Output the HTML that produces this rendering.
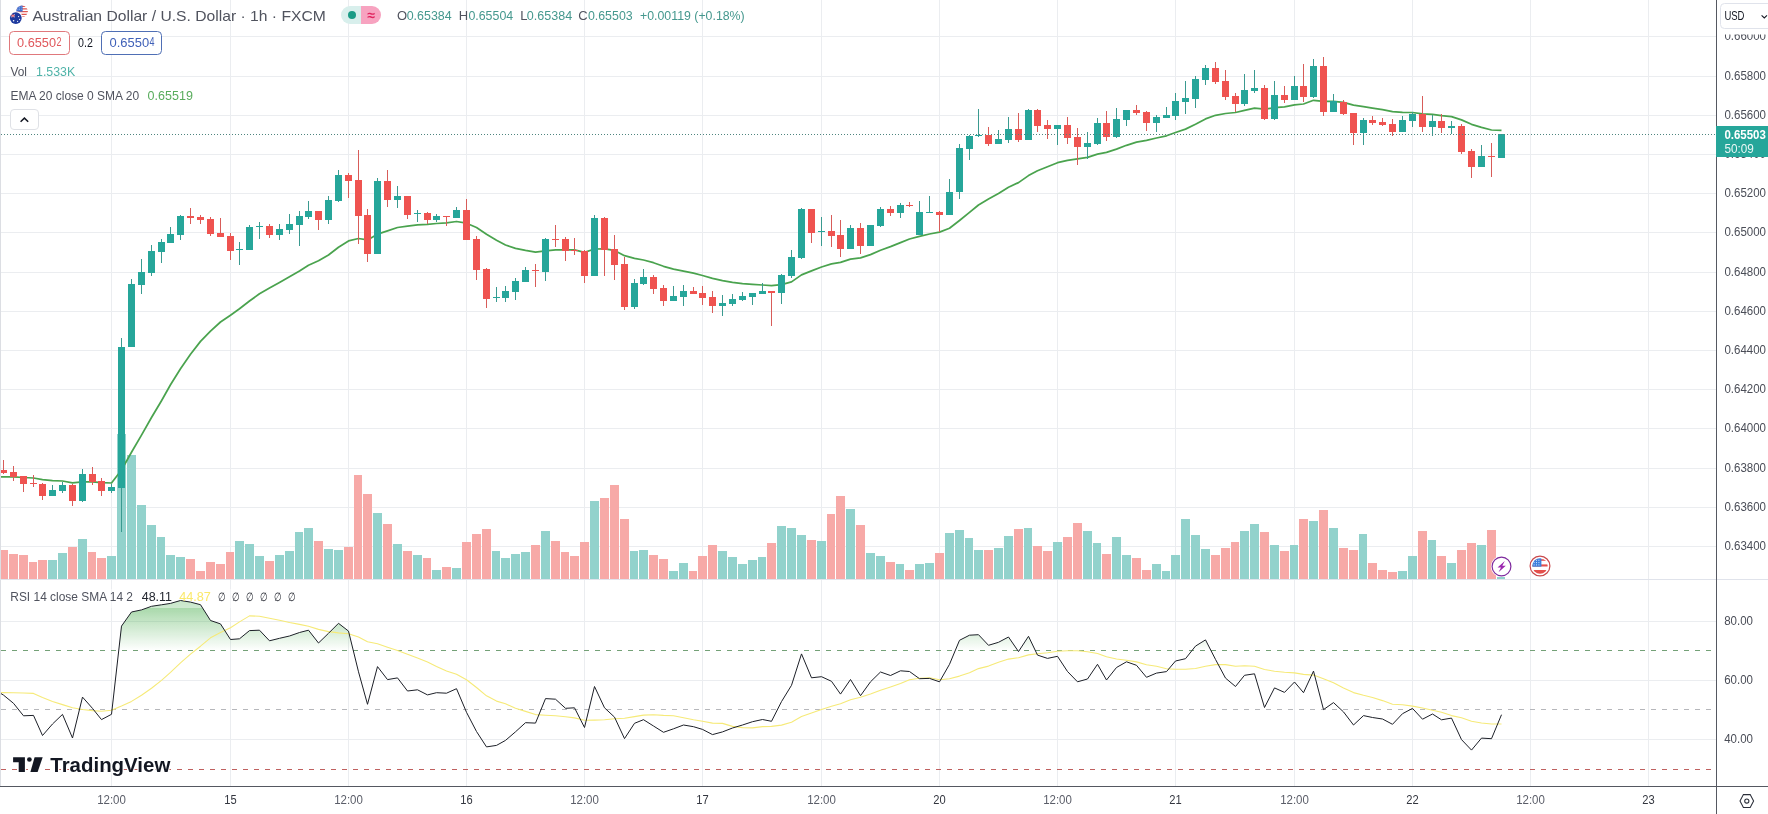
<!DOCTYPE html>
<html lang="en"><head><meta charset="utf-8"><title>AUDUSD chart</title>
<style>html,body{margin:0;padding:0;background:#fff}body{width:1768px;height:814px;overflow:hidden;position:relative;font-family:"Liberation Sans", Arial, sans-serif}svg{position:absolute;left:0;top:0;display:block}text{font-family:"Liberation Sans", Arial, sans-serif}</style></head><body>
<svg width="1768" height="814" viewBox="0 0 1768 814" shape-rendering="crispEdges">
<rect x="0" y="0" width="1768" height="814" fill="#fff"/>
<path d="M1 36.5H1716M1 76.5H1716M1 115.5H1716M1 154.5H1716M1 193.5H1716M1 232.5H1716M1 272.5H1716M1 311.5H1716M1 350.5H1716M1 389.5H1716M1 428.5H1716M1 468.5H1716M1 507.5H1716M1 546.5H1716M1 621.5H1716M1 680.5H1716M1 739.5H1716M111.5 0V786M230.5 0V786M348.5 0V786M466.5 0V786M584.5 0V786M702.5 0V786M821.5 0V786M939.5 0V786M1057.5 0V786M1175.5 0V786M1294.5 0V786M1412.5 0V786M1530.5 0V786M1648.5 0V786" stroke="#ebedf0" stroke-width="1" fill="none"/>
<path d="M48 560H57V579H48ZM58 553H67V579H58ZM78 539H87V579H78ZM107 556H116V579H107ZM117 434H126V579H117ZM127 455H136V579H127ZM137 505H146V579H137ZM147 525H156V579H147ZM157 537H165V579H157ZM166 555H175V579H166ZM176 557H185V579H176ZM235 541H244V579H235ZM245 544H254V579H245ZM255 556H264V579H255ZM275 555H284V579H275ZM285 551H294V579H285ZM295 532H303V579H295ZM304 528H313V579H304ZM324 549H333V579H324ZM334 550H343V579H334ZM373 513H382V579H373ZM393 544H402V579H393ZM413 555H422V579H413ZM432 570H441V579H432ZM452 568H461V579H452ZM492 551H500V579H492ZM501 558H510V579H501ZM511 554H520V579H511ZM521 552H530V579H521ZM541 531H550V579H541ZM590 501H599V579H590ZM630 551H638V579H630ZM639 550H648V579H639ZM669 571H678V579H669ZM679 563H688V579H679ZM718 551H727V579H718ZM728 557H737V579H728ZM738 564H747V579H738ZM748 560H757V579H748ZM758 557H766V579H758ZM777 526H786V579H777ZM787 528H796V579H787ZM797 535H806V579H797ZM817 541H826V579H817ZM846 509H855V579H846ZM866 553H875V579H866ZM876 556H885V579H876ZM896 564H904V579H896ZM915 564H924V579H915ZM925 563H934V579H925ZM945 533H954V579H945ZM955 530H964V579H955ZM965 538H973V579H965ZM974 550H983V579H974ZM994 548H1003V579H994ZM1004 536H1013V579H1004ZM1024 528H1032V579H1024ZM1053 542H1062V579H1053ZM1083 531H1092V579H1083ZM1093 543H1101V579H1093ZM1112 537H1121V579H1112ZM1122 555H1131V579H1122ZM1152 564H1161V579H1152ZM1162 571H1170V579H1162ZM1171 555H1180V579H1171ZM1181 519H1190V579H1181ZM1191 535H1200V579H1191ZM1201 549H1210V579H1201ZM1240 531H1249V579H1240ZM1250 524H1259V579H1250ZM1270 545H1279V579H1270ZM1290 545H1298V579H1290ZM1309 521H1318V579H1309ZM1329 528H1338V579H1329ZM1359 534H1367V579H1359ZM1398 571H1407V579H1398ZM1408 556H1417V579H1408ZM1428 540H1436V579H1428ZM1447 563H1456V579H1447ZM1477 545H1486V579H1477ZM1497 577H1505V579H1497Z" fill="#92d2cc"/>
<path d="M1 550H8V579H1ZM9 554H18V579H9ZM19 555H28V579H19ZM29 562H37V579H29ZM38 560H47V579H38ZM68 547H77V579H68ZM88 552H96V579H88ZM97 558H106V579H97ZM186 559H195V579H186ZM196 571H205V579H196ZM206 562H215V579H206ZM216 564H225V579H216ZM226 552H234V579H226ZM265 561H274V579H265ZM314 541H323V579H314ZM344 547H353V579H344ZM354 475H362V579H354ZM363 494H372V579H363ZM383 524H392V579H383ZM403 551H412V579H403ZM423 558H431V579H423ZM442 567H451V579H442ZM462 542H471V579H462ZM472 534H481V579H472ZM482 529H491V579H482ZM531 545H540V579H531ZM551 541H560V579H551ZM561 552H569V579H561ZM570 556H579V579H570ZM580 542H589V579H580ZM600 498H609V579H600ZM610 485H619V579H610ZM620 519H629V579H620ZM649 555H658V579H649ZM659 559H668V579H659ZM689 571H697V579H689ZM698 556H707V579H698ZM708 545H717V579H708ZM767 543H776V579H767ZM807 540H816V579H807ZM827 514H835V579H827ZM836 496H845V579H836ZM856 525H865V579H856ZM886 562H895V579H886ZM905 570H914V579H905ZM935 553H944V579H935ZM984 550H993V579H984ZM1014 529H1023V579H1014ZM1033 546H1042V579H1033ZM1043 551H1052V579H1043ZM1063 537H1072V579H1063ZM1073 523H1082V579H1073ZM1102 554H1111V579H1102ZM1132 558H1141V579H1132ZM1142 570H1151V579H1142ZM1211 555H1220V579H1211ZM1221 548H1230V579H1221ZM1231 542H1239V579H1231ZM1260 532H1269V579H1260ZM1280 551H1289V579H1280ZM1299 519H1308V579H1299ZM1319 510H1328V579H1319ZM1339 548H1348V579H1339ZM1349 550H1358V579H1349ZM1368 563H1377V579H1368ZM1378 570H1387V579H1378ZM1388 572H1397V579H1388ZM1418 531H1427V579H1418ZM1437 556H1446V579H1437ZM1457 550H1466V579H1457ZM1467 543H1476V579H1467ZM1487 530H1496V579H1487Z" fill="#f7a9a7"/>
<polyline shape-rendering="geometricPrecision" fill="none" stroke="#4aa34e" stroke-width="1.75" stroke-linejoin="round" points="-6.4,476.6 3.5,476.9 13.5,476.9 23.5,477.5 33.5,478.0 42.5,479.7 52.5,480.6 62.5,481.0 72.5,482.8 82.5,481.9 92.5,481.9 101.5,482.7 111.5,483.0 121.5,470.0 131.5,452.3 141.5,435.1 151.5,417.5 161.5,400.7 170.5,384.8 180.5,368.7 190.5,354.2 200.5,341.4 210.5,331.1 220.5,322.0 230.5,315.2 239.5,308.8 249.5,301.0 259.5,293.8 269.5,288.1 279.5,282.4 289.5,276.8 299.5,271.0 308.5,265.2 318.5,260.8 328.5,255.0 338.5,247.3 348.5,240.9 358.5,238.5 367.5,239.9 377.5,234.2 387.5,230.9 397.5,227.5 407.5,226.2 417.5,224.9 427.5,224.3 436.5,223.5 446.5,222.8 456.5,221.5 466.5,223.2 476.5,227.5 486.5,234.2 496.5,240.2 505.5,245.0 515.5,248.3 525.5,250.4 535.5,252.2 545.5,250.9 555.5,249.8 565.5,249.8 574.5,249.8 584.5,252.3 594.5,249.0 604.5,248.9 614.5,250.4 624.5,255.7 634.5,258.3 643.5,260.0 653.5,262.7 663.5,266.3 673.5,269.1 683.5,271.1 693.5,273.2 702.5,275.5 712.5,278.3 722.5,280.6 732.5,282.3 742.5,283.6 752.5,284.4 762.5,285.0 771.5,285.7 781.5,284.6 791.5,281.9 801.5,274.9 811.5,270.9 821.5,267.0 831.5,263.9 840.5,262.4 850.5,259.1 860.5,257.8 870.5,254.6 880.5,250.2 890.5,246.6 900.5,242.6 909.5,239.0 919.5,236.4 929.5,234.0 939.5,232.1 949.5,228.2 959.5,220.5 969.5,212.4 978.5,205.0 988.5,199.1 998.5,193.4 1008.5,187.2 1018.5,182.6 1028.5,175.6 1037.5,170.8 1047.5,166.7 1057.5,162.7 1067.5,160.3 1077.5,158.9 1087.5,157.4 1097.5,154.1 1106.5,152.3 1116.5,149.1 1126.5,145.3 1136.5,142.2 1146.5,140.3 1156.5,138.0 1166.5,135.8 1175.5,132.5 1185.5,129.1 1195.5,124.3 1205.5,118.9 1215.5,115.3 1225.5,113.5 1235.5,112.5 1244.5,110.3 1254.5,108.1 1264.5,109.1 1274.5,107.7 1284.5,106.9 1294.5,104.9 1303.5,104.0 1313.5,100.3 1323.5,101.4 1333.5,101.3 1343.5,102.4 1353.5,105.2 1363.5,106.6 1372.5,108.1 1382.5,109.6 1392.5,111.7 1402.5,112.4 1412.5,112.5 1422.5,113.8 1432.5,114.4 1441.5,115.7 1451.5,116.6 1461.5,119.9 1471.5,124.3 1481.5,127.3 1491.5,130.0 1501.5,130.4"/>
<path d="M52 485H53V496H52ZM62 482H63V493H62ZM82 469H83V502H82ZM111 484H112V493H111ZM121 338H122V532H121ZM131 279H132V347H131ZM141 259H142V294H141ZM151 245H152V276H151ZM161 239H162V263H161ZM170 227H171V243H170ZM180 215H181V240H180ZM239 242H240V265H239ZM249 225H250V250H249ZM259 222H260V239H259ZM279 224H280V240H279ZM289 214H290V234H289ZM299 211H300V246H299ZM308 201H309V219H308ZM328 196H329V224H328ZM338 170H339V202H338ZM377 178H378V254H377ZM397 186H398V208H397ZM417 210H418V222H417ZM436 214H437V222H436ZM456 207H457V218H456ZM496 287H497V302H496ZM505 286H506V302H505ZM515 278H516V300H515ZM525 267H526V282H525ZM545 238H546V281H545ZM594 215H595V276H594ZM634 279H635V309H634ZM643 269H644V285H643ZM673 286H674V301H673ZM683 285H684V306H683ZM722 295H723V316H722ZM732 294H733V306H732ZM742 292H743V301H742ZM752 293H753V305H752ZM762 283H763V294H762ZM781 274H782V304H781ZM791 250H792V278H791ZM801 208H802V259H801ZM821 217H822V246H821ZM850 225H851V249H850ZM870 225H871V246H870ZM880 207H881V227H880ZM900 203H901V218H900ZM919 201H920V235H919ZM929 196H930V213H929ZM949 179H950V215H949ZM959 144H960V199H959ZM969 135H970V160H969ZM978 109H979V137H978ZM998 130H999V144H998ZM1008 117H1009V143H1008ZM1028 109H1029V140H1028ZM1057 125H1058V145H1057ZM1087 132H1088V159H1087ZM1097 118H1098V145H1097ZM1116 108H1117V138H1116ZM1126 110H1127V126H1126ZM1156 115H1157V132H1156ZM1166 107H1167V118H1166ZM1175 93H1176V120H1175ZM1185 81H1186V114H1185ZM1195 76H1196V108H1195ZM1205 65H1206V85H1205ZM1244 74H1245V106H1244ZM1254 70H1255V93H1254ZM1274 81H1275V120H1274ZM1294 76H1295V100H1294ZM1313 59H1314V98H1313ZM1333 94H1334V112H1333ZM1363 118H1364V145H1363ZM1402 116H1403V132H1402ZM1412 112H1413V127H1412ZM1432 115H1433V136H1432ZM1451 121H1452V134H1451ZM1481 145H1482V167H1481ZM1501 134H1502V158H1501Z" fill="#3a9a90"/>
<path d="M49 490H56V496H49ZM59 485H66V491H59ZM79 474H86V501H79ZM108 487H115V491H108ZM118 347H125V488H118ZM128 284H135V347H128ZM138 272H145V285H138ZM148 251H155V273H148ZM158 242H165V252H158ZM167 234H174V243H167ZM177 216H184V235H177ZM236 249H243V250H236ZM246 227H253V250H246ZM256 226H263V227H256ZM276 229H283V235H276ZM286 224H293V230H286ZM296 216H303V225H296ZM305 211H312V217H305ZM325 200H332V220H325ZM335 175H342V201H335ZM374 181H381V254H374ZM394 196H401V200H394ZM414 213H421V214H414ZM433 216H440V220H433ZM453 210H460V218H453ZM493 297H500V298H493ZM502 291H509V298H502ZM512 281H519V292H512ZM522 270H529V282H522ZM542 239H549V272H542ZM591 218H598V276H591ZM631 283H638V307H631ZM640 277H647V284H640ZM670 296H677V301H670ZM680 291H687V297H680ZM719 303H726V306H719ZM729 299H736V304H729ZM739 296H746V300H739ZM749 293H756V297H749ZM759 291H766V294H759ZM778 275H785V293H778ZM788 257H795V276H788ZM798 209H805V258H798ZM818 231H825V232H818ZM847 228H854V249H847ZM867 225H874V246H867ZM877 209H884V226H877ZM897 205H904V213H897ZM916 212H923V235H916ZM926 212H933V213H926ZM946 192H953V215H946ZM956 148H963V192H956ZM966 136H973V149H966ZM975 135H982V136H975ZM995 139H1002V144H995ZM1005 129H1012V140H1005ZM1025 110H1032V140H1025ZM1054 125H1061V129H1054ZM1084 143H1091V147H1084ZM1094 123H1101V144H1094ZM1113 119H1120V137H1113ZM1123 110H1130V120H1123ZM1153 117H1160V123H1153ZM1163 115H1170V118H1163ZM1172 101H1179V116H1172ZM1182 98H1189V102H1182ZM1192 79H1199V99H1192ZM1202 68H1209V80H1202ZM1241 90H1248V104H1241ZM1251 88H1258V91H1251ZM1271 95H1278V119H1271ZM1291 86H1298V100H1291ZM1310 66H1317V97H1310ZM1330 101H1337V112H1330ZM1360 120H1367V133H1360ZM1399 120H1406V132H1399ZM1409 114H1416V121H1409ZM1429 121H1436V127H1429ZM1448 126H1455V128H1448ZM1478 156H1485V167H1478ZM1498 134H1505V158H1498Z" fill="#26a69a"/>
<path d="M3 460H4V474H3ZM13 466H14V481H13ZM23 476H24V492H23ZM33 475H34V487H33ZM42 483H43V500H42ZM72 484H73V506H72ZM92 467H93V485H92ZM101 478H102V496H101ZM190 208H191V224H190ZM200 215H201V224H200ZM210 217H211V236H210ZM220 218H221V237H220ZM230 233H231V260H230ZM269 224H270V238H269ZM318 211H319V230H318ZM348 173H349V198H348ZM358 150H359V244H358ZM367 209H368V262H367ZM387 170H388V207H387ZM407 196H408V219H407ZM427 212H428V224H427ZM446 216H447V226H446ZM466 199H467V240H466ZM476 236H477V280H476ZM486 268H487V308H486ZM535 264H536V287H535ZM555 225H556V247H555ZM565 237H566V261H565ZM574 238H575V255H574ZM584 250H585V283H584ZM604 217H605V276H604ZM614 235H615V280H614ZM624 257H625V310H624ZM653 275H654V294H653ZM663 285H664V306H663ZM693 287H694V294H693ZM702 286H703V305H702ZM712 291H713V313H712ZM771 291H772V326H771ZM811 209H812V243H811ZM831 215H832V247H831ZM840 220H841V257H840ZM860 223H861V254H860ZM890 206H891V216H890ZM909 202H910V207H909ZM939 211H940V232H939ZM988 127H989V146H988ZM1018 113H1019V142H1018ZM1037 109H1038V132H1037ZM1047 120H1048V139H1047ZM1067 117H1068V144H1067ZM1077 128H1078V165H1077ZM1106 111H1107V141H1106ZM1136 105H1137V115H1136ZM1146 111H1147V131H1146ZM1215 62H1216V84H1215ZM1225 70H1226V100H1225ZM1235 93H1236V112H1235ZM1264 85H1265V120H1264ZM1284 86H1285V103H1284ZM1303 64H1304V102H1303ZM1323 57H1324V116H1323ZM1343 100H1344V115H1343ZM1353 113H1354V145H1353ZM1372 116H1373V125H1372ZM1382 118H1383V126H1382ZM1392 119H1393V136H1392ZM1422 96H1423V132H1422ZM1441 114H1442V133H1441ZM1461 124H1462V154H1461ZM1471 149H1472V178H1471ZM1491 143H1492V177H1491Z" fill="#d85c59"/>
<path d="M1 470H7V473H1ZM10 472H17V477H10ZM20 476H27V484H20ZM30 483H37V484H30ZM39 484H46V496H39ZM69 485H76V501H69ZM89 474H96V482H89ZM98 481H105V491H98ZM187 216H194V218H187ZM197 217H204V220H197ZM207 219H214V234H207ZM217 233H224V237H217ZM227 236H234V251H227ZM266 226H273V235H266ZM315 211H322V220H315ZM345 175H352V181H345ZM355 180H362V216H355ZM364 215H371V254H364ZM384 181H391V200H384ZM404 196H411V215H404ZM424 213H431V220H424ZM443 216H450V217H443ZM463 210H470V240H463ZM473 239H480V270H473ZM483 269H490V299H483ZM532 270H539V271H532ZM552 239H559V240H552ZM562 239H569V251H562ZM571 250H578V251H571ZM581 251H588V276H581ZM601 218H608V250H601ZM611 249H618V265H611ZM621 264H628V307H621ZM650 277H657V289H650ZM660 288H667V301H660ZM690 291H697V294H690ZM699 293H706V298H699ZM709 297H716V306H709ZM768 291H775V293H768ZM808 209H815V233H808ZM828 231H835V236H828ZM837 235H844V249H837ZM857 228H864V246H857ZM887 209H894V213H887ZM906 205H913V206H906ZM936 212H943V215H936ZM985 135H992V144H985ZM1015 129H1022V140H1015ZM1034 110H1041V126H1034ZM1044 125H1051V129H1044ZM1064 125H1071V138H1064ZM1074 137H1081V147H1074ZM1103 123H1110V137H1103ZM1133 110H1140V113H1133ZM1143 112H1150V123H1143ZM1212 68H1219V82H1212ZM1222 81H1229V97H1222ZM1232 96H1239V104H1232ZM1261 88H1268V119H1261ZM1281 95H1288V100H1281ZM1300 86H1307V97H1300ZM1320 66H1327V112H1320ZM1340 102H1347V114H1340ZM1350 113H1357V133H1350ZM1369 120H1376V123H1369ZM1379 122H1386V125H1379ZM1389 124H1396V132H1389ZM1419 114H1426V127H1419ZM1438 121H1445V128H1438ZM1458 126H1465V152H1458ZM1468 151H1475V167H1468ZM1488 156H1495V157H1488Z" fill="#ef5350"/>
<path d="M1 134.5H1716" stroke="#4f857f" stroke-width="1" stroke-dasharray="1 2" fill="none"/>
<path d="M1 650.5H1712" stroke="#74a177" stroke-width="1" stroke-dasharray="5 6" fill="none"/>
<path d="M1 709.5H1712" stroke="#b6b7bb" stroke-width="1" stroke-dasharray="5 6" fill="none"/>
<path d="M1 769.5H1712" stroke="#c0605f" stroke-width="1" stroke-dasharray="5 6" fill="none"/>
<rect x="0" y="0" width="1" height="786" fill="#dcdee3"/>
<rect x="0" y="579" width="1768" height="1" fill="#e0e3eb"/>
<rect x="1716" y="0" width="1" height="814" fill="#555861"/>
<rect x="0" y="786" width="1768" height="1" fill="#555861"/>
</svg>
<svg width="1768" height="814" viewBox="0 0 1768 814" style="will-change:transform;transform:translateZ(0)">
<defs><linearGradient id="ob" gradientUnits="userSpaceOnUse" x1="0" y1="561.9" x2="0" y2="650.7"><stop offset="0" stop-color="#4caf50" stop-opacity="1"/><stop offset="1" stop-color="#4caf50" stop-opacity="0"/></linearGradient>
<clipPath id="cp"><rect x="1" y="0" width="1715" height="786"/></clipPath></defs>
<g clip-path="url(#cp)">
<polygon fill="url(#ob)" points="118.7,650.5 121.5,626.1 131.5,612.0 141.5,609.9 151.5,606.3 161.5,604.8 170.5,603.4 180.5,600.5 190.5,602.1 200.5,604.7 210.5,620.5 220.5,623.9 230.5,639.5 239.5,638.8 249.5,630.6 259.5,630.2 269.5,640.8 279.5,638.3 289.5,636.0 299.5,632.5 308.5,630.2 318.5,643.0 328.5,633.3 338.5,623.3 348.5,631.1 353.3,650.5"/>
<polygon fill="url(#ob)" points="955.3,650.5 959.5,640.3 969.5,635.2 978.5,634.7 988.5,645.3 998.5,642.3 1008.5,637.0 1017.8,650.5"/>
<polygon fill="url(#ob)" points="1019.2,650.5 1028.5,636.3 1035.3,650.5"/>
<polygon fill="url(#ob)" points="1192.0,650.5 1195.5,646.1 1205.5,639.9 1211.0,650.5"/>
<rect x="8" y="589" width="290" height="19" fill="#fff" fill-opacity="0.45"/>
<polyline fill="none" stroke="#f6ea78" stroke-width="1.1" stroke-linejoin="round" points="-6.4,692.4 3.5,692.6 13.5,692.8 23.5,693.0 33.5,693.4 42.5,697.5 52.5,701.5 62.5,704.6 72.5,707.8 82.5,709.5 92.5,710.6 101.5,711.2 111.5,710.3 121.5,706.0 131.5,701.4 141.5,695.3 151.5,688.3 161.5,680.4 170.5,672.4 180.5,662.8 190.5,654.1 200.5,646.2 210.5,637.8 220.5,632.6 230.5,627.7 239.5,621.9 249.5,615.9 259.5,616.2 269.5,618.3 279.5,620.3 289.5,622.5 299.5,624.4 308.5,626.3 318.5,629.4 328.5,631.6 338.5,632.9 348.5,633.7 358.5,637.1 367.5,641.7 377.5,643.7 387.5,647.2 397.5,650.6 407.5,654.2 417.5,657.9 427.5,662.1 436.5,666.4 446.5,670.9 456.5,674.2 466.5,679.8 476.5,687.5 486.5,695.8 496.5,701.1 505.5,703.7 515.5,708.3 525.5,711.4 535.5,714.6 545.5,715.2 555.5,715.8 565.5,716.8 574.5,717.9 584.5,720.3 594.5,720.1 604.5,719.8 614.5,718.8 624.5,718.2 634.5,716.6 643.5,715.1 653.5,714.7 663.5,715.4 673.5,715.8 683.5,717.7 693.5,719.7 702.5,721.2 712.5,723.1 722.5,723.4 732.5,726.4 742.5,727.6 752.5,727.9 762.5,726.6 771.5,726.4 781.5,725.1 791.5,722.2 801.5,716.6 811.5,713.0 821.5,709.5 831.5,706.3 840.5,703.8 850.5,699.8 860.5,697.2 870.5,693.9 880.5,690.2 890.5,686.9 900.5,683.4 909.5,679.8 919.5,678.2 929.5,677.7 939.5,679.7 949.5,678.7 959.5,676.1 969.5,672.8 978.5,668.6 988.5,666.1 998.5,662.3 1008.5,659.1 1018.5,657.7 1028.5,654.9 1037.5,653.7 1047.5,652.8 1057.5,651.2 1067.5,650.7 1077.5,650.7 1087.5,651.8 1097.5,653.5 1106.5,656.7 1116.5,659.0 1126.5,660.2 1136.5,661.9 1146.5,664.7 1156.5,666.3 1166.5,668.8 1175.5,669.2 1185.5,669.2 1195.5,668.5 1205.5,666.2 1215.5,664.6 1225.5,664.6 1235.5,666.2 1244.5,665.8 1254.5,666.3 1264.5,669.5 1274.5,671.2 1284.5,672.2 1294.5,672.9 1303.5,674.4 1313.5,675.1 1323.5,678.7 1333.5,682.8 1343.5,687.9 1353.5,692.6 1363.5,695.3 1372.5,697.5 1382.5,700.6 1392.5,704.2 1402.5,704.7 1412.5,706.1 1422.5,708.0 1432.5,710.3 1441.5,712.3 1451.5,715.6 1461.5,717.8 1471.5,721.2 1481.5,723.0 1491.5,724.0 1501.5,724.0"/>
<polyline fill="none" stroke="#1c1f27" stroke-width="1" stroke-linejoin="round" points="-6.4,689.1 3.5,695.1 13.5,703.3 23.5,715.8 33.5,715.4 42.5,735.5 52.5,724.0 62.5,714.4 72.5,738.0 82.5,697.1 92.5,708.4 101.5,719.6 111.5,714.3 121.5,626.1 131.5,612.0 141.5,609.9 151.5,606.3 161.5,604.8 170.5,603.4 180.5,600.5 190.5,602.1 200.5,604.7 210.5,620.5 220.5,623.9 230.5,639.5 239.5,638.8 249.5,630.6 259.5,630.2 269.5,640.8 279.5,638.3 289.5,636.0 299.5,632.5 308.5,630.2 318.5,643.0 328.5,633.3 338.5,623.3 348.5,631.1 358.5,671.8 367.5,704.3 377.5,666.6 387.5,679.6 397.5,677.9 407.5,691.0 417.5,689.8 427.5,694.9 436.5,692.7 446.5,693.2 456.5,688.7 466.5,712.3 476.5,731.5 486.5,746.9 496.5,745.4 505.5,740.4 515.5,731.8 525.5,722.7 535.5,723.1 545.5,698.6 555.5,699.2 565.5,708.3 574.5,707.8 584.5,727.5 594.5,686.5 604.5,707.8 614.5,717.1 624.5,738.6 634.5,723.3 643.5,719.7 653.5,726.0 663.5,732.3 673.5,728.8 683.5,725.0 693.5,726.7 702.5,729.4 712.5,734.6 722.5,731.9 732.5,728.0 742.5,725.0 752.5,721.7 762.5,719.5 771.5,721.3 781.5,701.6 791.5,685.3 801.5,653.9 811.5,677.8 821.5,676.7 831.5,681.3 840.5,694.1 850.5,679.5 860.5,695.7 870.5,681.8 880.5,672.0 890.5,675.5 900.5,670.8 909.5,671.5 919.5,678.7 929.5,678.4 939.5,681.8 949.5,664.3 959.5,640.3 969.5,635.2 978.5,634.7 988.5,645.3 998.5,642.3 1008.5,637.0 1018.5,651.6 1028.5,636.3 1037.5,655.1 1047.5,658.4 1057.5,656.3 1067.5,671.5 1077.5,681.8 1087.5,679.0 1097.5,664.3 1106.5,680.0 1116.5,667.5 1126.5,661.8 1136.5,665.3 1146.5,677.3 1156.5,673.1 1166.5,671.6 1175.5,661.0 1185.5,658.7 1195.5,646.1 1205.5,639.9 1215.5,659.4 1225.5,678.1 1235.5,686.5 1244.5,675.3 1254.5,673.8 1264.5,707.5 1274.5,687.9 1284.5,692.4 1294.5,682.0 1303.5,692.7 1313.5,671.1 1323.5,709.6 1333.5,702.6 1343.5,711.9 1353.5,725.0 1363.5,715.6 1372.5,717.5 1382.5,719.0 1392.5,724.3 1402.5,713.7 1412.5,708.4 1422.5,719.2 1432.5,714.0 1441.5,719.8 1451.5,718.1 1461.5,739.6 1471.5,750.1 1481.5,738.1 1491.5,738.7 1501.5,714.7"/>
</g>
<g><clipPath id="us1"><circle cx="22" cy="11.3" r="5.8"/></clipPath><g clip-path="url(#us1)"><rect x="16" y="5" width="12" height="13" fill="#fff"/><path d="M16 6.2h12M16 8.9h12M16 11.6h12M16 14.3h12M16 17h12" stroke="#e0554f" stroke-width="1.35"/><rect x="16" y="5" width="6.6" height="6.6" fill="#3f6fd0"/><path d="M17.5 7h4M17.5 9.2h4" stroke="#cfe0ff" stroke-width=".8" stroke-dasharray=".8 .9"/></g>
<circle cx="15.8" cy="18.1" r="6.9" fill="#fff"/><circle cx="15.8" cy="18.1" r="5.9" fill="#1e3a9e"/><path d="M11.3 14.6l3.4 2.4M14.7 14.6l-3.4 2.4" stroke="#fff" stroke-width="1"/><path d="M13 14v3.6M11 15.8h4" stroke="#e8555a" stroke-width=".8"/><circle cx="18.6" cy="16.6" r=".6" fill="#fff"/><circle cx="19.6" cy="19.3" r=".6" fill="#fff"/><circle cx="17.6" cy="21.3" r=".6" fill="#fff"/><circle cx="13.6" cy="20.8" r=".8" fill="#fff"/></g>
<text x="32.4" y="20.9" font-size="14.5" fill="#50535e" textLength="293.4" lengthAdjust="spacingAndGlyphs">Australian Dollar / U.S. Dollar · 1h · FXCM</text>
<path d="M350 6H361V24H350A9 9 0 0 1 350 6Z" fill="#d8efec"/><path d="M361 6H372A9 9 0 0 1 372 24H361Z" fill="#f7a3c0"/><circle cx="352" cy="15" r="4" fill="#1a9c86"/>
<text x="371.3" y="19.6" font-size="14" fill="#e0245e" font-weight="bold" text-anchor="middle">≈</text>
<text x="397.1" y="19.8" font-size="13" fill="#50535e">O</text>
<text x="406.7" y="19.8" font-size="13" fill="#45988e" textLength="45" lengthAdjust="spacingAndGlyphs">0.65384</text>
<text x="458.8" y="19.8" font-size="13" fill="#50535e">H</text>
<text x="468.4" y="19.8" font-size="13" fill="#45988e" textLength="44.8" lengthAdjust="spacingAndGlyphs">0.65504</text>
<text x="520.3" y="19.8" font-size="13" fill="#50535e">L</text>
<text x="526.8" y="19.8" font-size="13" fill="#45988e" textLength="45.4" lengthAdjust="spacingAndGlyphs">0.65384</text>
<text x="578.3" y="19.8" font-size="13" fill="#50535e">C</text>
<text x="587.9" y="19.8" font-size="13" fill="#45988e" textLength="44.8" lengthAdjust="spacingAndGlyphs">0.65503</text>
<text x="640" y="19.8" font-size="13" fill="#45988e" textLength="104.7" lengthAdjust="spacingAndGlyphs">+0.00119 (+0.18%)</text>
<rect x="9.5" y="31.5" width="60" height="23" rx="4" fill="#fff" stroke="#e0787c" stroke-width="1"/>
<rect x="101.5" y="31.5" width="60" height="23" rx="4" fill="#fff" stroke="#4f6fb5" stroke-width="1"/>
<text x="17" y="47.3" font-size="13" fill="#e0575b" textLength="39" lengthAdjust="spacingAndGlyphs">0.6550</text>
<text x="56.4" y="45.6" font-size="12.5" fill="#e0575b" textLength="5" lengthAdjust="spacingAndGlyphs">2</text>
<text x="78" y="47.3" font-size="12" fill="#131722" textLength="14.8" lengthAdjust="spacingAndGlyphs">0.2</text>
<text x="109.5" y="47.3" font-size="13" fill="#3f60b8" textLength="39.6" lengthAdjust="spacingAndGlyphs">0.6550</text>
<text x="149.5" y="45.6" font-size="12.5" fill="#3f60b8" textLength="5" lengthAdjust="spacingAndGlyphs">4</text>
<text x="10.4" y="76.1" font-size="13" fill="#50535e" textLength="16.5" lengthAdjust="spacingAndGlyphs">Vol</text>
<text x="36" y="76.1" font-size="13" fill="#4fb3a8" textLength="39.2" lengthAdjust="spacingAndGlyphs">1.533K</text>
<text x="10.4" y="99.8" font-size="13" fill="#50535e" textLength="128.7" lengthAdjust="spacingAndGlyphs">EMA 20 close 0 SMA 20</text>
<text x="147.6" y="99.8" font-size="13" fill="#58ac5c" textLength="45.3" lengthAdjust="spacingAndGlyphs">0.65519</text>
<rect x="10.5" y="109.5" width="28" height="20" rx="3.5" fill="#fff" stroke="#dfe1e6" stroke-width="1"/><path d="M20.6 121.7L24.4 118.1L28.2 121.7" fill="none" stroke="#131722" stroke-width="1.5"/>
<text x="10.3" y="600.8" font-size="13" fill="#50535e" textLength="122.7" lengthAdjust="spacingAndGlyphs">RSI 14 close SMA 14 2</text>
<text x="141.7" y="600.8" font-size="13" fill="#23262f" textLength="30.3" lengthAdjust="spacingAndGlyphs">48.11</text>
<text x="179.2" y="600.8" font-size="13" fill="#fbe96a" textLength="31.7" lengthAdjust="spacingAndGlyphs">44.87</text>
<text x="218.1" y="600.6" font-size="11.5" fill="#23262f" textLength="7.2" lengthAdjust="spacingAndGlyphs" font-family="DejaVu Sans, sans-serif">∅</text>
<text x="232.12" y="600.6" font-size="11.5" fill="#23262f" textLength="7.2" lengthAdjust="spacingAndGlyphs" font-family="DejaVu Sans, sans-serif">∅</text>
<text x="246.14" y="600.6" font-size="11.5" fill="#23262f" textLength="7.2" lengthAdjust="spacingAndGlyphs" font-family="DejaVu Sans, sans-serif">∅</text>
<text x="260.15999999999997" y="600.6" font-size="11.5" fill="#23262f" textLength="7.2" lengthAdjust="spacingAndGlyphs" font-family="DejaVu Sans, sans-serif">∅</text>
<text x="274.18" y="600.6" font-size="11.5" fill="#23262f" textLength="7.2" lengthAdjust="spacingAndGlyphs" font-family="DejaVu Sans, sans-serif">∅</text>
<text x="288.2" y="600.6" font-size="11.5" fill="#23262f" textLength="7.2" lengthAdjust="spacingAndGlyphs" font-family="DejaVu Sans, sans-serif">∅</text>
<text x="1724.4" y="39.6" font-size="12" fill="#4a4d57" textLength="41.6" lengthAdjust="spacingAndGlyphs">0.66000</text>
<text x="1724.4" y="79.6" font-size="12" fill="#4a4d57" textLength="41.6" lengthAdjust="spacingAndGlyphs">0.65800</text>
<text x="1724.4" y="118.6" font-size="12" fill="#4a4d57" textLength="41.6" lengthAdjust="spacingAndGlyphs">0.65600</text>
<text x="1724.4" y="157.6" font-size="12" fill="#4a4d57" textLength="41.6" lengthAdjust="spacingAndGlyphs">0.65400</text>
<text x="1724.4" y="196.6" font-size="12" fill="#4a4d57" textLength="41.6" lengthAdjust="spacingAndGlyphs">0.65200</text>
<text x="1724.4" y="235.6" font-size="12" fill="#4a4d57" textLength="41.6" lengthAdjust="spacingAndGlyphs">0.65000</text>
<text x="1724.4" y="275.6" font-size="12" fill="#4a4d57" textLength="41.6" lengthAdjust="spacingAndGlyphs">0.64800</text>
<text x="1724.4" y="314.6" font-size="12" fill="#4a4d57" textLength="41.6" lengthAdjust="spacingAndGlyphs">0.64600</text>
<text x="1724.4" y="353.6" font-size="12" fill="#4a4d57" textLength="41.6" lengthAdjust="spacingAndGlyphs">0.64400</text>
<text x="1724.4" y="392.6" font-size="12" fill="#4a4d57" textLength="41.6" lengthAdjust="spacingAndGlyphs">0.64200</text>
<text x="1724.4" y="431.6" font-size="12" fill="#4a4d57" textLength="41.6" lengthAdjust="spacingAndGlyphs">0.64000</text>
<text x="1724.4" y="471.6" font-size="12" fill="#4a4d57" textLength="41.6" lengthAdjust="spacingAndGlyphs">0.63800</text>
<text x="1724.4" y="510.6" font-size="12" fill="#4a4d57" textLength="41.6" lengthAdjust="spacingAndGlyphs">0.63600</text>
<text x="1724.4" y="549.6" font-size="12" fill="#4a4d57" textLength="41.6" lengthAdjust="spacingAndGlyphs">0.63400</text>
<text x="1724.2" y="625.1" font-size="12" fill="#4a4d57" textLength="28.8" lengthAdjust="spacingAndGlyphs">80.00</text>
<text x="1724.2" y="684.1" font-size="12" fill="#4a4d57" textLength="28.8" lengthAdjust="spacingAndGlyphs">60.00</text>
<text x="1724.2" y="743.1" font-size="12" fill="#4a4d57" textLength="28.8" lengthAdjust="spacingAndGlyphs">40.00</text>
<rect x="1717" y="0" width="51" height="34.5" fill="#fff"/>
<rect x="1720.5" y="3.5" width="60" height="25" rx="4" fill="#fff" stroke="#e0e3eb" stroke-width="1"/>
<text x="1724.4" y="19.7" font-size="12" fill="#131722" textLength="20.1" lengthAdjust="spacingAndGlyphs">USD</text>
<path d="M1761.6 15.4L1764.3 17.9L1767 15.4" fill="none" stroke="#131722" stroke-width="1.1"/>
<rect x="1716" y="126" width="52" height="31" fill="#26a69a" shape-rendering="crispEdges"/>
<text x="1724.4" y="138.9" font-size="12" fill="#fff" textLength="41.4" lengthAdjust="spacingAndGlyphs" font-weight="bold">0.65503</text>
<text x="1724.4" y="152.7" font-size="12" fill="#eaf7f5" textLength="29.4" lengthAdjust="spacingAndGlyphs">50:09</text>
<text x="111.5" y="804.3" font-size="12" fill="#5a5d68" textLength="28.7" lengthAdjust="spacingAndGlyphs" text-anchor="middle">12:00</text>
<text x="230.5" y="804.3" font-size="12" fill="#33363f" textLength="12.4" lengthAdjust="spacingAndGlyphs" text-anchor="middle">15</text>
<text x="348.5" y="804.3" font-size="12" fill="#5a5d68" textLength="28.7" lengthAdjust="spacingAndGlyphs" text-anchor="middle">12:00</text>
<text x="466.5" y="804.3" font-size="12" fill="#33363f" textLength="12.4" lengthAdjust="spacingAndGlyphs" text-anchor="middle">16</text>
<text x="584.5" y="804.3" font-size="12" fill="#5a5d68" textLength="28.7" lengthAdjust="spacingAndGlyphs" text-anchor="middle">12:00</text>
<text x="702.5" y="804.3" font-size="12" fill="#33363f" textLength="12.4" lengthAdjust="spacingAndGlyphs" text-anchor="middle">17</text>
<text x="821.5" y="804.3" font-size="12" fill="#5a5d68" textLength="28.7" lengthAdjust="spacingAndGlyphs" text-anchor="middle">12:00</text>
<text x="939.5" y="804.3" font-size="12" fill="#33363f" textLength="12.4" lengthAdjust="spacingAndGlyphs" text-anchor="middle">20</text>
<text x="1057.5" y="804.3" font-size="12" fill="#5a5d68" textLength="28.7" lengthAdjust="spacingAndGlyphs" text-anchor="middle">12:00</text>
<text x="1175.5" y="804.3" font-size="12" fill="#33363f" textLength="12.4" lengthAdjust="spacingAndGlyphs" text-anchor="middle">21</text>
<text x="1294.5" y="804.3" font-size="12" fill="#5a5d68" textLength="28.7" lengthAdjust="spacingAndGlyphs" text-anchor="middle">12:00</text>
<text x="1412.5" y="804.3" font-size="12" fill="#33363f" textLength="12.4" lengthAdjust="spacingAndGlyphs" text-anchor="middle">22</text>
<text x="1530.5" y="804.3" font-size="12" fill="#5a5d68" textLength="28.7" lengthAdjust="spacingAndGlyphs" text-anchor="middle">12:00</text>
<text x="1648.5" y="804.3" font-size="12" fill="#33363f" textLength="12.4" lengthAdjust="spacingAndGlyphs" text-anchor="middle">23</text>
<path d="M1743.4 794.6h6.8l3.4 6.4l-3.4 6.4h-6.8l-3.4-6.4z" fill="none" stroke="#2a2e39" stroke-width="1.05"/><circle cx="1746.8" cy="801" r="2.1" fill="none" stroke="#2a2e39" stroke-width="1.05"/>
<circle cx="1501.5" cy="566.5" r="10.6" fill="#fff"/><circle cx="1501.5" cy="566.5" r="9.4" fill="#fff" stroke="#7e2a9e" stroke-width="1.2"/><path d="M1504.8 560.9l-7.3 6.5h3.5l-2.5 4.9l7.3-6.6h-3.5z" fill="#9c27b0"/>
<circle cx="1540" cy="566" r="10.9" fill="#fff"/><circle cx="1540" cy="566" r="9.9" fill="#fff" stroke="#c9494c" stroke-width="1.2"/><clipPath id="us2"><circle cx="1540" cy="566" r="7.7"/></clipPath><g clip-path="url(#us2)"><rect x="1532" y="558" width="16" height="16" fill="#fff"/><rect x="1532" y="559.2" width="16" height="1.6" fill="#e4504c"/><rect x="1532" y="564.4" width="16" height="2.1" fill="#e4504c"/><rect x="1532" y="570" width="16" height="4" fill="#e4504c"/><rect x="1532" y="558" width="9.4" height="8.7" fill="#3d7fdc"/><path d="M1533.6 560.3h7M1533.6 562.6h7M1533.6 564.9h7" stroke="#d4e6ff" stroke-width="1" stroke-dasharray="1 1.4"/></g>
<g stroke="#fff" stroke-width="2.4" stroke-linejoin="round" paint-order="stroke" fill="#131722">
<path d="M13.1 757.2H24.9V771.9H18.7V762.3H13.1Z"/><circle cx="29.4" cy="759.5" r="2.35"/><path d="M34.6 757.2H42.7L37.6 771.9H30.4Z"/>
<text x="50.3" y="771.9" font-size="20.5" font-weight="bold" textLength="120" lengthAdjust="spacingAndGlyphs" stroke="#fff" stroke-width="2.4" paint-order="stroke" fill="#131722">TradingView</text>
</g>
</svg>
</body></html>
